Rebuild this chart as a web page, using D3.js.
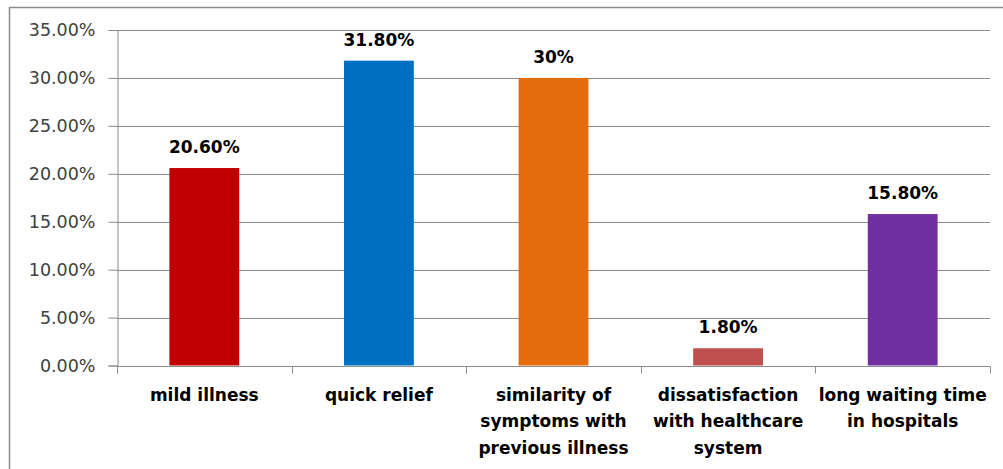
<!DOCTYPE html>
<html lang="en">
    <head>
        <meta charset="utf-8">
        <title>Reasons for self-medication</title>
        <script type="text/javascript" src="https://d3js.org/d3.v7.min.js"></script>
    <style>
        body { margin: 0; background: #fff; }
        svg { display: block; }
    </style>
    </head>
    <body>
        <script type="text/javascript">

        const categories = ["mild illness", "quick relief", "similarity of symptoms with previous illness",
                            "dissatisfaction with healthcare system", "long waiting time in hospitals"];
        const tickLines = [["mild illness"], ["quick relief"], ["similarity of", "symptoms with", "previous illness"],
                           ["dissatisfaction", "with healthcare", "system"], ["long waiting time", "in hospitals"]];
        const values = [20.6, 31.8, 30, 1.8, 15.8];
        const valueLabels = ["20.60%", "31.80%", "30%", "1.80%", "15.80%"];
        const barColors = ["#c00000", "#0070c0", "#e46c0a", "#c0504d", "#7030a0"];
        const yTicks = [0, 5, 10, 15, 20, 25, 30, 35];

        const width = 1003;
        const height = 469;
        const plotLeft = 117, plotRight = 990, plotTop = 30, plotBottom = 365.5;

        const svg = d3.select("body")
                    .append("svg")
                    .attr("width", width)
                    .attr("height", height);

        // outer chart border (runs off the right and bottom)
        svg.append("rect")
            .attr("x", 9.5).attr("y", 7.5)
            .attr("width", 1100).attr("height", 600)
            .attr("fill", "none")
            .attr("stroke", "#8c8c8c")
            .attr("stroke-width", 1.5);

        const xScale = d3.scaleBand()
                        .domain(categories)
                        .range([plotLeft, plotRight])
                        .padding(0);

        const yScale = d3.scaleLinear()
                        .domain([0, 35])
                        .range([plotBottom, plotTop]);

        // gridlines
        svg.append("g")
            .selectAll("line")
            .data(yTicks.filter(d => d > 0))
            .enter()
            .append("line")
            .attr("x1", plotLeft).attr("x2", plotRight)
            .attr("y1", d => Math.round(yScale(d)) + 0.5)
            .attr("y2", d => Math.round(yScale(d)) + 0.5)
            .attr("stroke", "#8c8c8c");

        // bars
        const barW = xScale.bandwidth() * 0.4;
        svg.selectAll("rect.bar")
            .data(values)
            .enter()
            .append("rect")
            .attr("class", "bar")
            .attr("x", (d, i) => xScale(categories[i]) + (xScale.bandwidth() - barW) / 2)
            .attr("y", d => yScale(d))
            .attr("width", barW)
            .attr("height", d => yScale(0) - yScale(d))
            .attr("fill", (d, i) => barColors[i]);

        // value labels
        svg.selectAll("text.val")
            .data(values)
            .enter()
            .append("text")
            .attr("class", "val")
            .attr("x", (d, i) => xScale(categories[i]) + xScale.bandwidth() / 2)
            .attr("y", d => yScale(d) - 15)
            .attr("text-anchor", "middle")
            .style("font-family", "DejaVu Sans, sans-serif")
            .style("font-weight", "bold")
            .style("font-size", "17px")
            .attr("fill", "#000")
            .text((d, i) => valueLabels[i]);

        // left axis
        const leftAxis = d3.axisLeft(yScale)
                        .tickValues(yTicks)
                        .tickSize(9)
                        .tickPadding(13)
                        .tickFormat(d => d.toFixed(2) + "%");

        const yAxisG = svg.append("g")
            .attr("transform", "translate(" + (plotLeft + 0.5) + ",0)")
            .call(leftAxis);
        yAxisG.select(".domain").attr("stroke", "#8c8c8c");
        yAxisG.selectAll(".tick line").attr("stroke", "#8c8c8c");
        yAxisG.selectAll(".tick text")
            .style("font-family", "DejaVu Sans, sans-serif")
            .style("font-size", "17.5px")
            .attr("fill", "#404040");

        // bottom axis: ticks at category boundaries
        const xAxisG = svg.append("g")
            .attr("transform", "translate(0," + (Math.round(plotBottom) + 0.5) + ")");
        xAxisG.append("line")
            .attr("x1", plotLeft).attr("x2", plotRight)
            .attr("stroke", "#8c8c8c");
        xAxisG.selectAll("line.tk")
            .data(categories.concat([null]))
            .enter()
            .append("line")
            .attr("class", "tk")
            .attr("x1", (d, i) => Math.round(plotLeft + i * xScale.step()) + 0.5)
            .attr("x2", (d, i) => Math.round(plotLeft + i * xScale.step()) + 0.5)
            .attr("y1", 0).attr("y2", 7)
            .attr("stroke", "#8c8c8c");

        const labels = xAxisG.selectAll("text.cat")
            .data(tickLines)
            .enter()
            .append("text")
            .attr("class", "cat")
            .attr("text-anchor", "middle")
            .style("font-family", "DejaVu Sans, sans-serif")
            .style("font-weight", "bold")
            .style("font-size", "17px")
            .attr("fill", "#000");
        labels.each(function(lines, i) {
            const cx = xScale(categories[i]) + xScale.bandwidth() / 2;
            d3.select(this).selectAll("tspan")
                .data(lines)
                .enter()
                .append("tspan")
                .attr("x", cx)
                .attr("y", (l, j) => 34 + j * 26.5)
                .text(l => l);
        });

        </script>
    </body>
</html>
